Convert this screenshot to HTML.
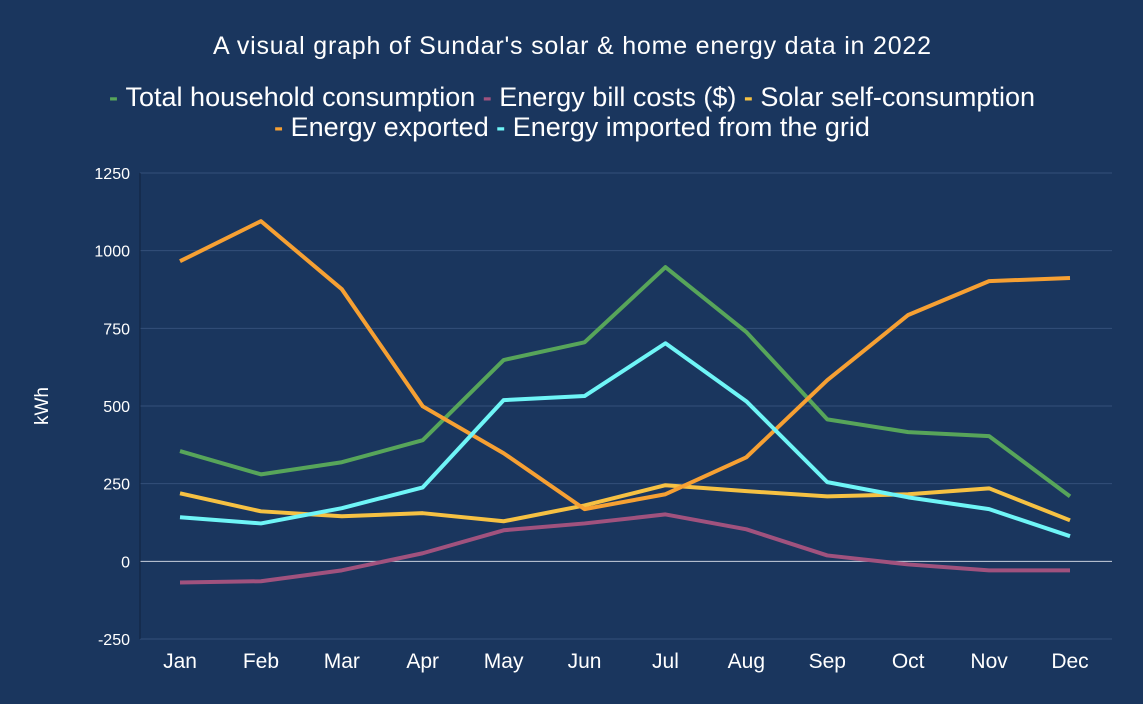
<!DOCTYPE html>
<html><head><meta charset="utf-8"><style>
body{margin:0;background:#1a365e;}
svg{display:block;font-family:"Liberation Sans",sans-serif;}
</style></head><body>
<svg id="chart" width="1143" height="704" viewBox="0 0 1143 704">
<rect width="1143" height="704" fill="#1a365e"/>
<text x="572" y="54" fill="#fff" font-size="25" text-anchor="middle" textLength="718">A visual graph of Sundar's solar &amp; home energy data in 2022</text>
<g id="legend"></g>
<g id="grid"></g>
<g id="series"></g>
<g id="axes"></g>
<text transform="translate(48,406) rotate(-90)" fill="#fff" font-size="19" text-anchor="middle">kWh</text>
</svg>
<script>
const months=["Jan","Feb","Mar","Apr","May","Jun","Jul","Aug","Sep","Oct","Nov","Dec"];
const yTicks=[-250,0,250,500,750,1000,1250];
const seriesNames=["Total household consumption","Energy bill costs ($)","Solar self-consumption","Energy exported","Energy imported from the grid"];
const seriesColors=["#57a55a","#a0527e","#f6c143","#f6a033","#6ff5f7"];
const household=[355,280,319,390,648,705,947,738,457,416,403,209];
const billCosts=[-68,-64,-29,26,100,122,151,103,19,-10,-29,-29];
const selfConsumption=[219,161,145,155,129,180,245,226,209,216,235,132];
const exported=[966,1095,876,499,348,168,216,335,583,793,902,912];
const imported=[142,122,171,238,519,532,702,515,255,206,168,81];
const allSeries=[household,billCosts,selfConsumption,exported,imported];
const NS="http://www.w3.org/2000/svg";
const x0=140,x1=1112,yTop=173,yBot=639,vMin=-250,vMax=1250;
const xS=i=>180+i*(1070-180)/(months.length-1);
const yS=v=>yBot-(v-vMin)/(vMax-vMin)*(yBot-yTop);
function mk(t,a,p){const e=document.createElementNS(NS,t);for(const k in a)e.setAttribute(k,a[k]);p.appendChild(e);return e;}
const grid=document.getElementById('grid'),axes=document.getElementById('axes'),ser=document.getElementById('series'),leg=document.getElementById('legend');
yTicks.forEach(v=>{
 const l=mk('line',{x1:x0,x2:x1,y1:yS(v),y2:yS(v),stroke:v===0?'#c8d0dc':'#34507a','stroke-width':1},grid);
 
 
 const t=mk('text',{x:130,y:yS(v)+6,fill:'#fff','font-size':16,'text-anchor':'end'},axes);
 t.textContent=v;
 
 
});
const ax=mk('line',{x1:x0,x2:x0,y1:yTop,y2:yBot,stroke:'#10233f','stroke-width':1},axes);


months.forEach((m,i)=>{
 const t=mk('text',{x:xS(i),y:668,fill:'#fff','font-size':21,'text-anchor':'middle'},axes);
 t.textContent=m;
 
 
});
allSeries.forEach((d,s)=>{
 const p=mk('polyline',{points:d.map((v,i)=>xS(i)+','+yS(v)).join(' '),fill:'none',stroke:seriesColors[s],'stroke-width':4,'stroke-linejoin':'round'},ser);
 
 
});
const rows=[[0,1,2],[3,4]],rowY=[106,136];
rows.forEach((r,ri)=>{
 const g=mk('text',{x:572,y:rowY[ri],'font-size':27,'text-anchor':'middle'},leg);
 
 
 r.forEach((s,j)=>{
  const a=mk('tspan',{fill:seriesColors[s],'font-weight':'bold'},g);a.textContent=(j?'  ':'')+'- ';
  const b=mk('tspan',{fill:'#fff'},g);b.textContent=seriesNames[s];
  
  
 });
});
</script>
</body></html>
